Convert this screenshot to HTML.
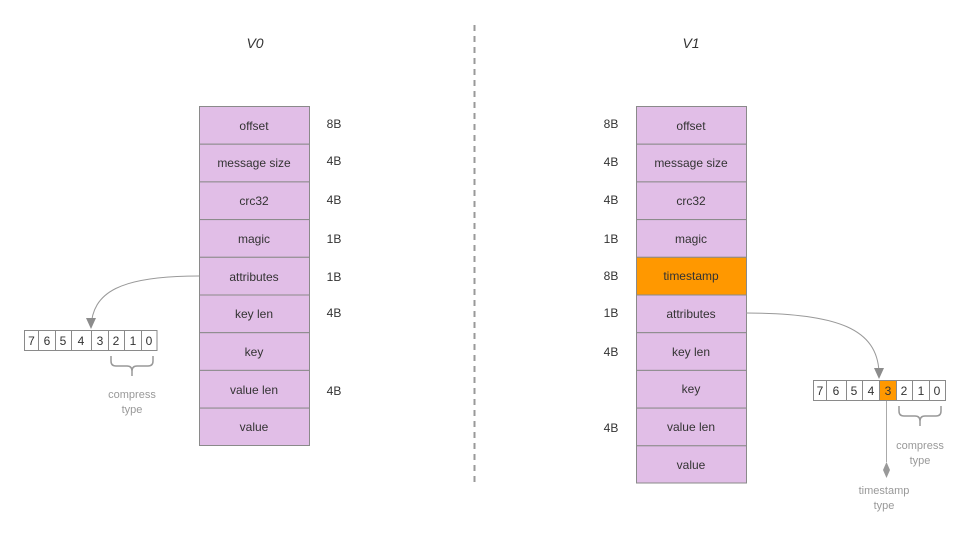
<!DOCTYPE html>
<html><head><meta charset="utf-8"><style>
html,body{margin:0;padding:0;background:#fff;}
svg{display:block;font-family:"Liberation Sans",sans-serif;}
</style></head><body>
<svg width="979" height="543" viewBox="0 0 979 543" xmlns="http://www.w3.org/2000/svg">
<line x1="474.5" y1="25" x2="474.5" y2="485" stroke="#999" stroke-width="2" stroke-dasharray="6,5"/>
<text x="255" y="48" font-size="14" font-style="italic" text-anchor="middle" fill="#333">V0</text>
<text x="691" y="48" font-size="14" font-style="italic" text-anchor="middle" fill="#333">V1</text>
<g font-size="12" text-anchor="middle" fill="#333">
<g stroke="#8a8a8a" stroke-width="1">
<rect x="199.5" y="106.5" width="110" height="37.7" fill="#e1bee7"/>
<rect x="199.5" y="144.2" width="110" height="37.7" fill="#e1bee7"/>
<rect x="199.5" y="181.9" width="110" height="37.7" fill="#e1bee7"/>
<rect x="199.5" y="219.6" width="110" height="37.7" fill="#e1bee7"/>
<rect x="199.5" y="257.3" width="110" height="37.7" fill="#e1bee7"/>
<rect x="199.5" y="295" width="110" height="37.7" fill="#e1bee7"/>
<rect x="199.5" y="332.7" width="110" height="37.7" fill="#e1bee7"/>
<rect x="199.5" y="370.4" width="110" height="37.7" fill="#e1bee7"/>
<rect x="199.5" y="408.1" width="110" height="37.4" fill="#e1bee7"/>
</g>
<text x="254" y="130">offset</text>
<text x="254" y="167">message size</text>
<text x="254" y="205">crc32</text>
<text x="254" y="243">magic</text>
<text x="254" y="281">attributes</text>
<text x="254" y="318">key len</text>
<text x="254" y="356">key</text>
<text x="254" y="394">value len</text>
<text x="254" y="431">value</text>
<text x="334" y="128">8B</text>
<text x="334" y="165">4B</text>
<text x="334" y="204">4B</text>
<text x="334" y="243">1B</text>
<text x="334" y="281">1B</text>
<text x="334" y="317">4B</text>
<text x="334" y="395">4B</text>
<g stroke="#8a8a8a" stroke-width="1">
<rect x="636.5" y="106.5" width="110" height="37.7" fill="#e1bee7"/>
<rect x="636.5" y="144.2" width="110" height="37.7" fill="#e1bee7"/>
<rect x="636.5" y="181.9" width="110" height="37.7" fill="#e1bee7"/>
<rect x="636.5" y="219.6" width="110" height="37.7" fill="#e1bee7"/>
<rect x="636.5" y="257.3" width="110" height="37.7" fill="#ff9800"/>
<rect x="636.5" y="295" width="110" height="37.7" fill="#e1bee7"/>
<rect x="636.5" y="332.7" width="110" height="37.7" fill="#e1bee7"/>
<rect x="636.5" y="370.4" width="110" height="37.7" fill="#e1bee7"/>
<rect x="636.5" y="408.1" width="110" height="37.7" fill="#e1bee7"/>
<rect x="636.5" y="445.8" width="110" height="37.2" fill="#e1bee7"/>
</g>
<text x="691" y="130">offset</text>
<text x="691" y="167">message size</text>
<text x="691" y="205">crc32</text>
<text x="691" y="243">magic</text>
<text x="691" y="280">timestamp</text>
<text x="691" y="318">attributes</text>
<text x="691" y="356">key len</text>
<text x="691" y="393">key</text>
<text x="691" y="431">value len</text>
<text x="691" y="469">value</text>
<text x="611" y="128">8B</text>
<text x="611" y="166">4B</text>
<text x="611" y="204">4B</text>
<text x="611" y="243">1B</text>
<text x="611" y="280">8B</text>
<text x="611" y="317">1B</text>
<text x="611" y="356">4B</text>
<text x="611" y="432">4B</text>
</g>
<g stroke="#8a8a8a" stroke-width="1" fill="#fff">
<rect x="24.5" y="330.5" width="132.5" height="20"/>
<line x1="38.5" y1="330.5" x2="38.5" y2="350.5"/>
<line x1="55.5" y1="330.5" x2="55.5" y2="350.5"/>
<line x1="71.5" y1="330.5" x2="71.5" y2="350.5"/>
<line x1="91.5" y1="330.5" x2="91.5" y2="350.5"/>
<line x1="108.5" y1="330.5" x2="108.5" y2="350.5"/>
<line x1="124.5" y1="330.5" x2="124.5" y2="350.5"/>
<line x1="141.5" y1="330.5" x2="141.5" y2="350.5"/>
</g>
<g font-size="12" fill="#333" text-anchor="middle">
<text x="31.5" y="345">7</text><text x="47" y="345">6</text><text x="63" y="345">5</text><text x="81" y="345">4</text>
<text x="100" y="345">3</text><text x="116" y="345">2</text><text x="133" y="345">1</text><text x="149" y="345">0</text>
</g>
<path d="M199,276 C120,276 92,292 91,328" fill="none" stroke="#999" stroke-width="1"/>
<path d="M86,318 L96,318 L91,329 z" fill="#8c8c8c"/>
<path d="M111,356 L111,361 Q111,366 116,366 L127,366 Q132,366 132,371 L132,376 M132,371 Q132,366 137,366 L148,366 Q153,366 153,361 L153,356" fill="none" stroke="#999" stroke-width="1.5"/>
<text x="132" y="398" font-size="11" fill="#999" text-anchor="middle">compress</text>
<text x="132" y="413" font-size="11" fill="#999" text-anchor="middle">type</text>
<rect x="879.5" y="380.5" width="16.5" height="20" fill="#ff9800"/>
<g stroke="#8a8a8a" stroke-width="1" fill="none">
<rect x="813.5" y="380.5" width="132" height="20"/>
<line x1="826.5" y1="380.5" x2="826.5" y2="400.5"/>
<line x1="846.5" y1="380.5" x2="846.5" y2="400.5"/>
<line x1="862.5" y1="380.5" x2="862.5" y2="400.5"/>
<line x1="879.5" y1="380.5" x2="879.5" y2="400.5"/>
<line x1="896.5" y1="380.5" x2="896.5" y2="400.5"/>
<line x1="912.5" y1="380.5" x2="912.5" y2="400.5"/>
<line x1="929.5" y1="380.5" x2="929.5" y2="400.5"/>
</g>
<g font-size="12" fill="#333" text-anchor="middle">
<text x="820" y="395">7</text><text x="836" y="395">6</text><text x="854" y="395">5</text><text x="871" y="395">4</text>
<text x="888" y="395">3</text><text x="904" y="395">2</text><text x="921" y="395">1</text><text x="937" y="395">0</text>
</g>
<path d="M746,313 C840,313 877,330 879,372" fill="none" stroke="#999" stroke-width="1"/>
<path d="M874,368 L884,368 L879,379 z" fill="#8c8c8c"/>
<line x1="886.5" y1="401" x2="886.5" y2="462" stroke="#aaa" stroke-width="1"/>
<path d="M886.5,462 L890,470 L886.5,478 L883,470 z" fill="#999"/>
<path d="M899,406 L899,411 Q899,416 904,416 L915,416 Q920,416 920,421 L920,426 M920,421 Q920,416 925,416 L936,416 Q941,416 941,411 L941,406" fill="none" stroke="#999" stroke-width="1.5"/>
<text x="920" y="449" font-size="11" fill="#999" text-anchor="middle">compress</text>
<text x="920" y="464" font-size="11" fill="#999" text-anchor="middle">type</text>
<text x="884" y="494" font-size="11" fill="#999" text-anchor="middle">timestamp</text>
<text x="884" y="509" font-size="11" fill="#999" text-anchor="middle">type</text>
</svg>
</body></html>
